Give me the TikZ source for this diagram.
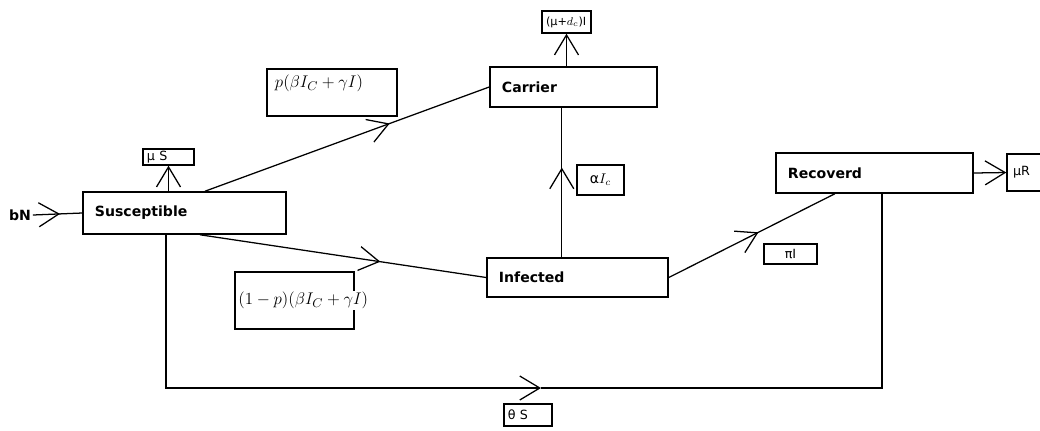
\documentclass[tikz,border=0pt]{standalone}
\usepackage{fontspec}
\usepackage{amsmath}
\usetikzlibrary{arrows.meta,calc,decorations.markings}
\newfontfamily\boxfont{DejaVu Sans}

\begin{document}
\begin{tikzpicture}[x=0.025cm,y=-0.025cm,line width=0.9pt,
    >={Straight Barb[length=0.5cm,width=0.6cm]},
    compart/.style={draw,line width=1.1pt,rectangle,align=left,inner xsep=0.3cm,font=\boxfont\bfseries\fontsize{10}{12}\selectfont},
    rate/.style={draw,line width=1pt,rectangle,align=left,inner xsep=0.1cm,inner ysep=0pt,font=\boxfont\fontsize{9}{10}\selectfont},
    midarrow/.style={postaction={decorate},decoration={markings,mark=at position #1 with {\arrow{>}}}}]
		\useasboundingbox (0,0) rectangle (1040,430);
		% compartments
		\node[compart,text width=4.475cm,minimum height=1.05cm]  (S)    at (184.5,213)   {Susceptible};
		\node[compart,text width=3.575cm,minimum height=1cm]     (C)    at (573.5,87)    {Carrier};
		\node[compart,text width=3.925cm,minimum height=0.975cm] (I)    at (577.5,277.5) {Infected};
		\node[compart,text width=4.325cm,minimum height=1cm]     (R)    at (874.5,173)   {Recoverd};
		\node[font=\boxfont\bfseries\fontsize{10}{12}\selectfont,inner sep=1pt] (bN) at (20,215) {bN};
		% rates
		\node[rate,text width=1.075cm,minimum height=0.4cm]      (muS)  at (168.5,157)   {μ S};
		\node[rate,text width=1.025cm,minimum height=0.55cm,font=\boxfont\fontsize{8}{9}\selectfont] (muC) at (566.5,22) {(μ+$d_c$)I};
		\node[rate,text width=2.85cm,inner xsep=0.2cm,minimum height=1.175cm,text depth=0.55cm,font=\fontsize{13}{15}\selectfont] (pC) at (332,92.5) {\mbox{$p(\beta I_C+\gamma I)$}};
		\node[rate,text width=2.875cm,inner xsep=0.05cm,minimum height=1.425cm,font=\fontsize{13}{15}\selectfont] (pI) at (294.5,300.5) {\setlength{\fboxsep}{1pt}\colorbox{white}{$(1-p)(\beta I_C+\gamma I)$}};
		\node[rate,align=center,text width=0.975cm,minimum height=0.75cm,font=\boxfont\fontsize{10}{12}\selectfont] (aI) at (600.5,180) {α$I_c$};
		\node[rate,align=center,text width=1.125cm,minimum height=0.5cm] (piI) at (790.5,254) {πI};
		\node[rate,text width=0.775cm,inner xsep=0.15cm,minimum height=0.925cm] (muR) at (1028.5,172.5) {μR};
		\node[rate,text width=1cm,minimum height=0.55cm]         (thS)  at (528,415)     {θ S};

		\coordinate (loop) at (541,388);

		\draw[midarrow=0.55] (bN.east) -- (S.west);
		\draw[->] (S.north -| muS.south) -- (muS.south);
		\draw[midarrow=0.65] ($(S.north west)!0.6!(S.north east)$) -- (C.west);
		\draw[midarrow=0.63] ($(S.south west)!0.576!(S.south east)$) -- (I.west);
		\draw[midarrow=0.6] ($(I.north west)!0.414!(I.north east)$) coordinate (iup) -- (iup |- C.south);
		\draw[->] (C.north -| muC.south) -- (muC.south);
		\draw[midarrow=0.54] (I.east) -- ($(R.south west)!0.3!(R.south east)$);
		\draw[->] (R.east) -- (muR.west);
		\draw[->] ($(S.south west)!0.41!(S.south east)$) |- (loop);
		\draw ($(R.south west)!0.538!(R.south east)$) |- (loop);
\end{tikzpicture}
\end{document}
